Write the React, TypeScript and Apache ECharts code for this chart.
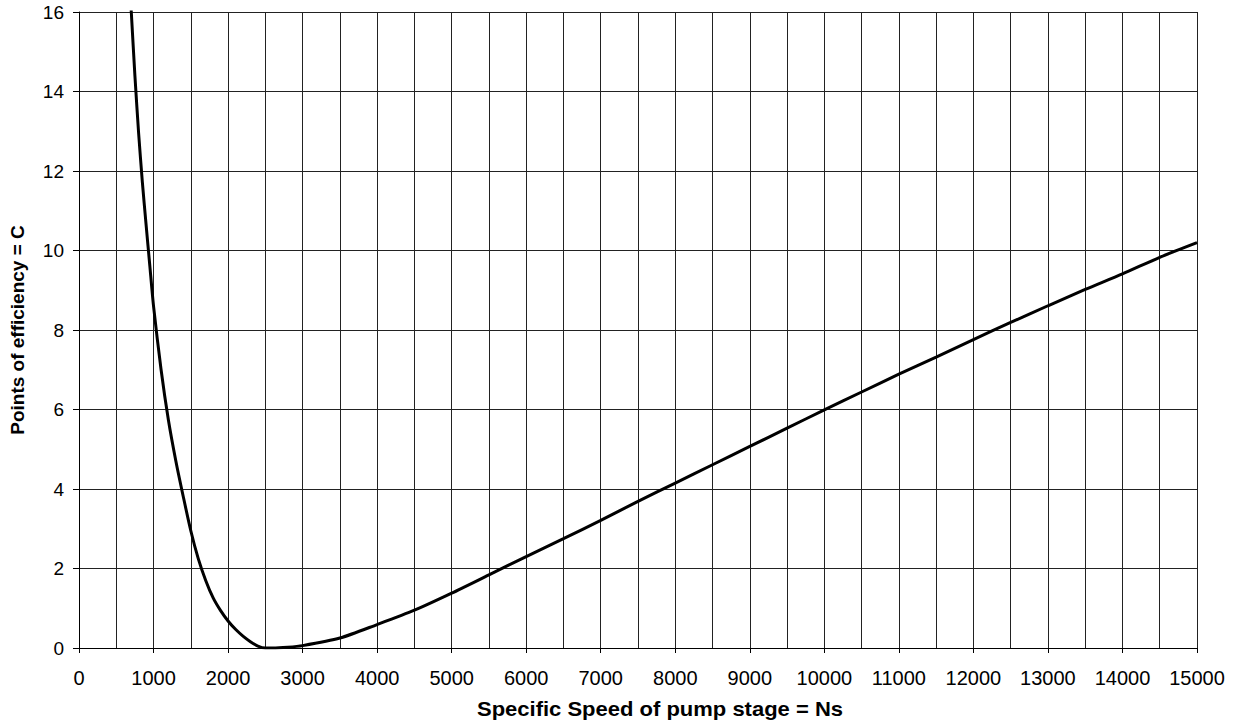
import React, { useEffect, useRef } from "react";
import * as echarts from "echarts";

const ns = [
  700, 750, 800, 850, 900, 950, 1000, 1100, 1200, 1300, 1400, 1500, 1600, 1700, 1800, 1900,
  2000, 2100, 2200, 2300, 2400, 2500, 2600, 2800, 3000, 3500, 4000, 4500, 5000, 5500, 6000,
  6500, 7000, 7500, 8000, 8500, 9000, 9500, 10000, 10500, 11000, 11500, 12000, 12500, 13000,
  13500, 14000, 14500, 15000,
];
const points = [
  16.05, 14.4, 12.95, 11.72, 10.65, 9.62, 8.6, 7.02, 5.73, 4.7, 3.8, 2.95, 2.25, 1.7, 1.26, 0.94,
  0.68, 0.47, 0.3, 0.16, 0.05, 0.0, 0.0, 0.02, 0.06, 0.25, 0.59, 0.95, 1.38, 1.84, 2.3,
  2.75, 3.21, 3.69, 4.15, 4.61, 5.07, 5.53, 5.99, 6.44, 6.89, 7.32, 7.76, 8.19, 8.61,
  9.02, 9.41, 9.83, 10.2,
];

const xTitle = "Specific Speed of pump stage = Ns";
const yTitle = "Points of efficiency = C";

export default function App() {
  const ref = useRef<HTMLDivElement>(null);
  useEffect(() => {
    if (!ref.current) return;
    const chart = echarts.init(ref.current, undefined, { renderer: "svg" });
    const font = "'Liberation Sans', Arial, sans-serif";
    chart.setOption({
      animation: false,
      backgroundColor: "#fff",
      grid: { left: 79, right: 39, top: 12, bottom: 79, containLabel: false },
      graphic: [
        {
          type: "text",
          x: 660,
          y: 709,
          scaleX: 1.1,
          style: {
            text: xTitle,
            fontFamily: font,
            fontSize: 20,
            fontWeight: "bold",
            fill: "#000",
            align: "center",
            verticalAlign: "middle",
          },
        },
      ],
      xAxis: {
        type: "value",
        min: 0,
        max: 15000,
        interval: 1000,
        axisLine: { show: true, lineStyle: { color: "#000", width: 1 } },
        axisTick: { show: true, inside: false, length: 5, lineStyle: { color: "#000" } },
        axisLabel: {
          fontFamily: font,
          fontSize: 20,
          color: "#000",
          margin: 20,
          formatter: (v: number) => String(v),
        },
        splitLine: { show: true, lineStyle: { color: "#222", width: 1 } },
        minorTick: { show: false, splitNumber: 2 },
        minorSplitLine: { show: true, lineStyle: { color: "#222", width: 1 } },
      },
      yAxis: {
        type: "value",
        min: 0,
        max: 16,
        interval: 2,
        name: yTitle,
        nameLocation: "middle",
        nameGap: 52,
        nameTextStyle: { fontFamily: font, fontSize: 19, fontWeight: "bold", color: "#000" },
        axisLine: { show: true, lineStyle: { color: "#000", width: 1 } },
        axisTick: { show: true, inside: false, length: 6, lineStyle: { color: "#000" } },
        axisLabel: { fontFamily: font, fontSize: 19, color: "#000", margin: 15 },
        splitLine: { show: true, lineStyle: { color: "#222", width: 1 } },
      },
      series: [
        {
          type: "line",
          data: ns.map((x, i) => [x, points[i]]),
          showSymbol: false,
          smooth: 0.25,
          clip: true,
          lineStyle: { color: "#000", width: 3 },
        },
      ],
    });
    return () => chart.dispose();
  }, []);
  return <div ref={ref} style={{ width: 1236, height: 727, position: "absolute", left: 0, top: 0 }} />;
}
